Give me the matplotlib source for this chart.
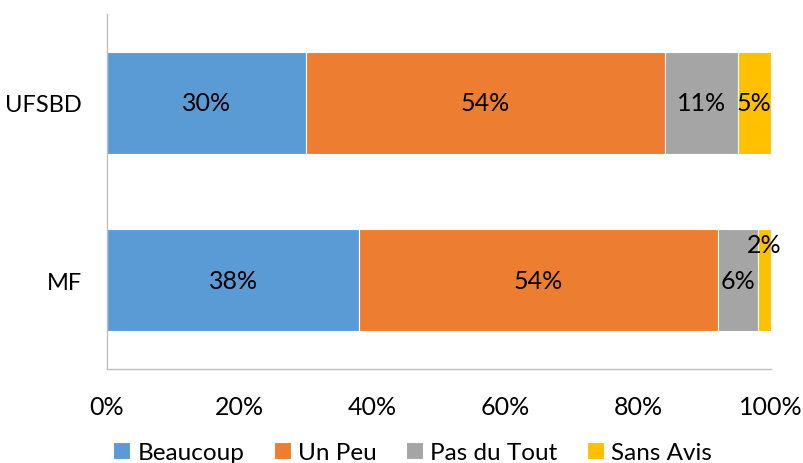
import matplotlib
matplotlib.use("Agg")
import matplotlib.pyplot as plt
import numpy as np

categories = ["MF", "UFSBD"]
series_names = ["Beaucoup", "Un Peu", "Pas du Tout", "Sans Avis"]
values = {
    "Beaucoup": [38, 30],
    "Un Peu": [54, 54],
    "Pas du Tout": [6, 11],
    "Sans Avis": [2, 5],
}
colors = ["#5B9BD5", "#ED7D31", "#A5A5A5", "#FFC000"]
xticks = [0, 20, 40, 60, 80, 100]

plt.rcParams['font.family'] = ['Lato', 'DejaVu Sans']
fig = plt.figure(figsize=(8.04, 4.64), dpi=100)
ax = fig.add_axes([107/804, 1-370/464, (771-107)/804, (370-15)/464])

y = np.arange(len(categories))
left = np.zeros(len(categories))
fs = 18
for name, col in zip(series_names, colors):
    vals = np.array(values[name], dtype=float)
    ax.barh(y, vals, left=left, height=0.575, color=col, edgecolor="white",
            linewidth=0.8, label=name)
    for i, v in enumerate(vals):
        cx = left[i] + v / 2
        cy = y[i]
        if name == "Sans Avis" and v < 3:
            cx = left[i] + v / 2 - 0.1
            cy = y[i] + 0.2
        ax.text(cx, cy, f"{int(v)}%", ha="center", va="center", fontsize=fs,
                color="black", clip_on=False)
    left += vals

ax.set_xlim(0, 100)
ax.set_ylim(-0.5, 1.5)
ax.set_yticks(y)
ax.set_yticklabels(categories, fontsize=17)
ax.set_xticks(xticks)
ax.set_xticklabels([f"{t}%" for t in xticks], fontsize=fs)
ax.tick_params(axis="both", length=0)
ax.tick_params(axis="x", pad=19)
ax.tick_params(axis="y", pad=18)
for s in ["top", "right"]:
    ax.spines[s].set_visible(False)
for s in ["left", "bottom"]:
    ax.spines[s].set_color("#BFBFBF")
    ax.spines[s].set_linewidth(1)

fig.legend(loc="lower center", bbox_to_anchor=(0.513, -0.047), ncol=4, frameon=False,
           fontsize=17.5, handlelength=0.7, handleheight=0.7, handletextpad=0.3,
           columnspacing=1.2)

fig.savefig("out.png", dpi=100)
